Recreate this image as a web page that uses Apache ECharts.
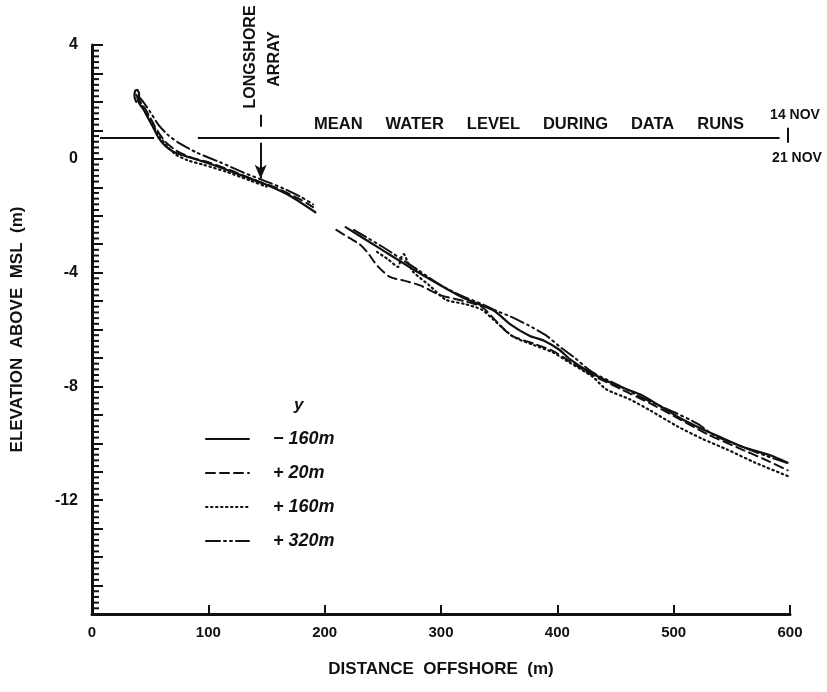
<!DOCTYPE html>
<html>
<head>
<meta charset="utf-8">
<script src="https://cdn.jsdelivr.net/npm/echarts@6/dist/echarts.min.js"></script>
<style>
  html, body { margin: 0; padding: 0; background: #fff; }
  #chart { width: 827px; height: 692px; }
</style>
</head>
<body>
<div id="chart"></div>
<script>
// Beach profiles: offshore distance (m) vs elevation above MSL (m).
// null marks a break in the surveyed trace.
const profileNames = ['\u2212 160m', '+ 20m', '+ 160m', '+ 320m'];

const xNeg160 = [38, 36.5, 37, 39, 40.5, 39.5, 41, 44, 48, 52, 57, 63, 70, 80, 92, 110, 135, 152, 170, 192, null,
  218, 247, 280, 307, 320, 333, 346, 359, 376, 389, 402, 411, 428, 452, 471, 488, 505, 522, 540, 561, 583, 598];
const zNeg160 = [2.0, 2.2, 2.38, 2.42, 2.25, 2.08, 1.92, 1.75, 1.45, 1.15, 0.75, 0.45, 0.25, 0.1, -0.05, -0.3, -0.68, -0.95, -1.3, -1.88, null,
  -2.4, -3.14, -3.98, -4.62, -4.9, -5.12, -5.35, -5.8, -6.22, -6.4, -6.72, -7.05, -7.5, -7.98, -8.28, -8.68, -9.1, -9.45, -9.78, -10.15, -10.42, -10.68];

const xPos20 = [38, 41, 45, 50, 56, 63, 72, 85, 100, 120, 140, 160, 180, 190, null,
  210, 222, 230, 237, 245, 256, 270, 282, 300, 320, 335, 345, 360, 380, 396, 408, 430, 455, 480, 505, 530, 555, 580, 598];
const zPos20 = [2.25, 2.05, 1.8, 1.45, 1.0, 0.6, 0.3, 0.05, -0.12, -0.42, -0.75, -1.05, -1.45, -1.7, null,
  -2.5, -2.8, -3.0, -3.3, -3.75, -4.15, -4.3, -4.45, -4.8, -5.0, -5.2, -5.6, -6.2, -6.5, -6.75, -7.05, -7.6, -8.1, -8.6, -9.15, -9.7, -10.15, -10.6, -10.95];

const xPos160 = [39, 42, 46, 52, 58, 65, 72, 82, 95, 115, 135, 150, null,
  245, 255, 263, 266, 268, 271, 276, 290, 304, 320, 335, 345, 362, 380, 396, 408, 430, 442, 462, 480, 503, 525, 546, 570, 598];
const zPos160 = [2.15, 1.95, 1.65, 1.2, 0.8, 0.42, 0.15, -0.05, -0.2, -0.45, -0.75, -0.98, null,
  -3.27, -3.55, -3.8, -3.45, -3.35, -3.6, -3.97, -4.45, -4.95, -5.1, -5.3, -5.65, -6.25, -6.55, -6.8, -7.1, -7.65, -8.1, -8.45, -8.85, -9.4, -9.85, -10.22, -10.68, -11.15];

const xPos320 = [40, 44, 50, 57, 65, 75, 90, 110, 130, 150, 165, 180, 190, null,
  225, 250, 280, 300, 318, 335, 348, 360, 375, 390, 402, 415, 430, 452, 478, 500, 520, 534, 548, 560, 580, 598];
const zPos320 = [2.2, 2.0, 1.65, 1.2, 0.85, 0.55, 0.22, -0.12, -0.48, -0.8, -1.05, -1.35, -1.6, null,
  -2.5, -3.1, -3.9, -4.45, -4.82, -5.1, -5.35, -5.55, -5.85, -6.2, -6.6, -7.0, -7.5, -7.95, -8.5, -8.9, -9.3, -9.7, -9.95, -10.14, -10.45, -10.7];

// Axis ticks
const xTicks = [0, 100, 200, 300, 400, 500, 600];
const yLabelValues = [4, 0, -4, -8, -12];
const yFineStep = 0.2; // fine graduation on the elevation axis

// Mean water level during data runs and its range (14 NOV / 21 NOV)
const meanLevel = 0.75;
const meanLevelHigh = 1.09;
const meanLevelLow = 0.56;
const arrayPosition = 145; // longshore array, m offshore

function pairs(xs, ys) {
  return xs.map((x, i) => (x === null ? ['-', '-'] : [x, ys[i]]));
}

const FONT = 'Liberation Sans, Arial, sans-serif';
const INK = '#111';
const Y_MIN = -16, Y_MAX = 4;

function profile(name, xs, ys, dash, width) {
  return {
    name: name,
    type: 'line',
    data: pairs(xs, ys),
    showSymbol: false,
    symbol: 'none',
    connectNulls: false,
    smooth: 0.25,
    lineStyle: { color: INK, width: width || 2, type: dash, cap: 'round' },
    itemStyle: { color: INK },
    z: 3
  };
}

function isLabelled(v) {
  const r = Math.round(v);
  return Math.abs(v - r) < 1e-6 && yLabelValues.indexOf(r) >= 0;
}

// positions of the fine graduation marks (skipping the whole metres, which carry axis ticks)
const fineTicks = [];
for (let k = 0; k <= Math.round((Y_MAX - Y_MIN) / yFineStep); k++) {
  if (k % 5 !== 0) fineTicks.push(+(Y_MIN + k * yFineStep).toFixed(2));
}

const chart = echarts.init(document.getElementById('chart'), null, { renderer: 'canvas' });

const fineTickSeries = {
  name: 'fine ticks',
  type: 'custom',
  silent: true,
  clip: false,
  data: fineTicks.map(v => [0, v]),
  encode: { x: 0, y: 1 },
  renderItem: function (params, api) {
    const p = api.coord([0, api.value(1)]);
    return {
      type: 'line',
      shape: { x1: p[0], y1: p[1], x2: p[0] + 7, y2: p[1] },
      style: { stroke: INK, lineWidth: 2 }
    };
  },
  z: 4
};

const annotations = {
  name: 'annotations',
  type: 'line',
  data: [],
  silent: true,
  markLine: {
    silent: true,
    symbol: 'none',
    animation: false,
    label: { show: false },
    lineStyle: { color: INK, width: 2, type: 'solid' },
    emphasis: { disabled: true },
    data: [
      [{ coord: [6.9, meanLevel] }, { coord: [53.4, meanLevel] }],
      [{ coord: [91, meanLevel] }, { coord: [591, meanLevel] }],
      [{ coord: [598, meanLevelLow] }, { coord: [598, meanLevelHigh] }],
      [{ coord: [596, meanLevelHigh] }, { coord: [600.5, meanLevelHigh] }],
      [{ coord: [596, meanLevelLow] }, { coord: [600.5, meanLevelLow] }],
      [{ coord: [arrayPosition, 1.55] }, { coord: [arrayPosition, 1.13] }],
      [{ coord: [arrayPosition, 0.56], symbol: 'none' },
       { coord: [arrayPosition, -0.7], symbol: 'arrow', symbolSize: [9, 14] }]
    ]
  }
};

const textBold = '600 ';

chart.setOption({
  animation: false,
  backgroundColor: '#fff',
  grid: { left: 92, right: 37, top: 45, bottom: 78, containLabel: false },
  xAxis: {
    type: 'value',
    min: 0, max: 600, interval: 100,
    name: 'DISTANCE  OFFSHORE  (m)',
    nameLocation: 'middle',
    nameGap: 47,
    nameTextStyle: { color: INK, fontFamily: FONT, fontSize: 17, fontWeight: 'bold' },
    axisLine: { show: true, onZero: false, lineStyle: { color: INK, width: 3 } },
    axisTick: { show: true, inside: true, length: 9, lineStyle: { color: INK, width: 2 } },
    axisLabel: {
      color: INK, fontFamily: FONT, fontSize: 15, fontWeight: 'bold', margin: 11,
      formatter: v => (xTicks.indexOf(v) >= 0 ? String(v) : '')
    },
    splitLine: { show: false }
  },
  yAxis: {
    type: 'value',
    min: Y_MIN, max: Y_MAX, interval: 1,
    name: 'ELEVATION  ABOVE  MSL  (m)',
    nameLocation: 'middle',
    nameGap: 66,
    nameRotate: 90,
    nameTextStyle: { color: INK, fontFamily: FONT, fontSize: 17, fontWeight: 'bold' },
    axisLine: { show: true, onZero: false, lineStyle: { color: INK, width: 3 } },
    axisTick: { show: true, inside: true, length: 11, lineStyle: { color: INK, width: 2 } },
    axisLabel: {
      color: INK, fontFamily: FONT, fontSize: 16, fontWeight: 'bold', margin: 14,
      formatter: v => (isLabelled(v) ? String(Math.round(v)) : '')
    },
    splitLine: { show: false }
  },
  legend: {
    orient: 'vertical',
    left: 205,
    top: 430,
    padding: 0,
    itemWidth: 43,
    itemHeight: 14,
    itemGap: 16,
    selectedMode: false,
    data: profileNames,
    itemStyle: { opacity: 0 },
    textStyle: {
      color: INK, fontFamily: FONT, fontSize: 18, fontStyle: 'italic', fontWeight: 'bold',
      padding: [0, 0, 0, 19]
    }
  },
  graphic: [
    { type: 'text', left: 294, top: 397, silent: true,
      style: { text: 'y', fill: INK, font: 'italic bold 17px ' + FONT } },
    { type: 'text', x: 250.5, y: 57, rotation: Math.PI / 2, silent: true,
      style: { text: 'LONGSHORE', fill: INK, font: textBold + '16px ' + FONT, align: 'center', verticalAlign: 'middle' } },
    { type: 'text', x: 274.5, y: 59, rotation: Math.PI / 2, silent: true,
      style: { text: 'ARRAY', fill: INK, font: textBold + '16px ' + FONT, align: 'center', verticalAlign: 'middle' } },
    { type: 'text', x: 529, y: 124, silent: true,
      style: { text: 'MEAN     WATER     LEVEL     DURING     DATA     RUNS', fill: INK, font: textBold + '16.5px ' + FONT, align: 'center', verticalAlign: 'middle' } },
    { type: 'text', x: 795, y: 115, silent: true,
      style: { text: '14 NOV', fill: INK, font: textBold + '14px ' + FONT, align: 'center', verticalAlign: 'middle' } },
    { type: 'text', x: 797, y: 158, silent: true,
      style: { text: '21 NOV', fill: INK, font: textBold + '14px ' + FONT, align: 'center', verticalAlign: 'middle' } }
  ],
  series: [
    profile(profileNames[0], xNeg160, zNeg160, 'solid', 2.2),
    profile(profileNames[1], xPos20, zPos20, [9, 5], 2),
    profile(profileNames[2], xPos160, zPos160, [1.5, 3.5], 2.2),
    profile(profileNames[3], xPos320, zPos320, [14, 4, 2, 4, 2, 4], 2),
    annotations,
    fineTickSeries
  ]
});
</script>
</body>
</html>
